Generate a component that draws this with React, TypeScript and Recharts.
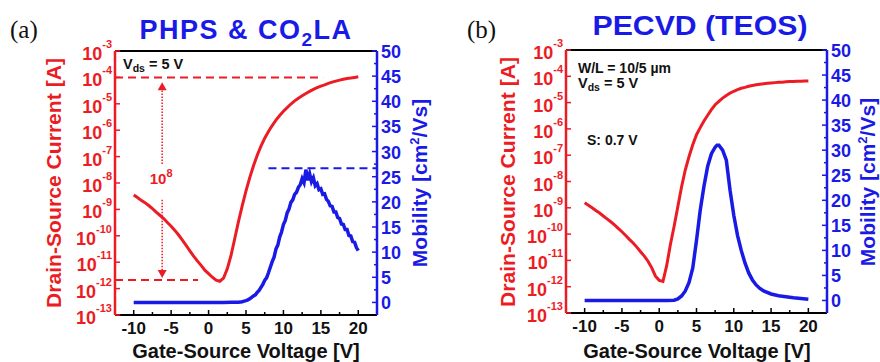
import React from "react";
import { LineChart, Line, XAxis, YAxis, ReferenceLine, ReferenceDot } from "recharts";

const RED = "#ec1c24";
const BLUE = "#1a1ae6";
const SANS = "'Liberation Sans', Arial, sans-serif";
const SERIF = "'Liberation Serif', 'Times New Roman', serif";

// gate-source sweep used for the transfer curves [V]
const vgs = [
  -10, -9.5, -9, -8.5, -8, -7.5, -7, -6.5, -6, -5.5, -5, -4.5, -4, -3.5, -3, -2.5, -2, -1.5, -1, -0.5,
  0, 0.5, 1, 1.5, 2, 2.5, 3, 3.5, 4, 4.5, 5, 5.5, 6, 6.5, 7, 7.5, 8, 8.5, 9, 9.5,
  10, 10.5, 11, 11.5, 12, 12.5, 13, 13.5, 14, 14.5, 15, 15.5, 16, 16.5, 17, 17.5, 18, 18.5, 19, 19.5, 20,
];

// drain-source current [A], PHPS & CO2LA
const currentA = [
  3.5e-9, 2.8e-9, 2.2e-9, 1.8e-9, 1.4e-9, 1.07e-9, 7.9e-10, 6.0e-10, 4.5e-10, 3.2e-10,
  2.3e-10, 1.6e-10, 1.07e-10, 6.8e-11, 4.3e-11, 2.7e-11, 1.7e-11, 1.12e-11, 7.6e-12, 5.0e-12,
  3.7e-12, 2.7e-12, 2.1e-12, 1.9e-12, 2.5e-12, 5.6e-12, 1.8e-11, 7.9e-11, 3.5e-10, 1.4e-9,
  5.0e-9, 1.6e-8, 4.5e-8, 1.12e-7, 2.5e-7, 5.0e-7, 8.9e-7, 1.5e-6, 2.4e-6, 3.6e-6,
  5.2e-6, 7.2e-6, 9.8e-6, 1.29e-5, 1.62e-5, 2.0e-5, 2.45e-5, 2.95e-5, 3.5e-5, 4.1e-5,
  4.7e-5, 5.2e-5, 5.9e-5, 6.6e-5, 7.2e-5, 7.9e-5, 8.5e-5, 9.1e-5, 9.5e-5, 1.0e-4, 1.05e-4,
];

// drain-source current [A], PECVD (TEOS)
const currentB = [
  1.55e-9, 1.26e-9, 1.0e-9, 7.9e-10, 6.3e-10, 4.9e-10, 3.8e-10, 2.95e-10, 2.24e-10, 1.66e-10,
  1.23e-10, 8.9e-11, 6.3e-11, 4.6e-11, 3.2e-11, 2.14e-11, 1.45e-11, 9.3e-12, 5.2e-12, 2.5e-12,
  1.74e-12, 1.58e-12, 6.3e-12, 4.0e-11, 2.0e-10, 1.12e-9, 6.3e-9, 2.8e-8, 8.9e-8, 2.5e-7,
  6.0e-7, 1.12e-6, 2.0e-6, 3.3e-6, 5.4e-6, 8.3e-6, 1.12e-5, 1.48e-5, 1.86e-5, 2.3e-5,
  2.7e-5, 3.1e-5, 3.5e-5, 3.8e-5, 4.2e-5, 4.5e-5, 4.8e-5, 5.0e-5, 5.2e-5, 5.4e-5,
  5.6e-5, 5.75e-5, 5.9e-5, 6.0e-5, 6.2e-5, 6.3e-5, 6.3e-5, 6.45e-5, 6.45e-5, 6.6e-5, 6.6e-5,
];

// mobility [cm2/Vs], PHPS & CO2LA (noisy measurement)
const mobVgsA = [
  -10, -7.5, -5, -2.5, 0, 2, 3,
  4, 4.25, 4.5, 4.75, 5, 5.25, 5.5, 5.75, 6, 6.25, 6.5, 6.75, 7, 7.25, 7.5, 7.75,
  8, 8.25, 8.5, 8.75, 9, 9.25, 9.5, 9.75, 10, 10.25, 10.5, 10.75, 11, 11.25, 11.5, 11.75,
  12, 12.25, 12.5, 12.75, 13, 13.25, 13.5, 13.75, 14, 14.25, 14.5, 14.75, 15, 15.25, 15.5, 15.75,
  16, 16.25, 16.5, 16.75, 17, 17.25, 17.5, 17.75, 18, 18.25, 18.5, 18.75, 19, 19.25, 19.5, 19.75, 20,
];
const mobilityA = [
  0, 0, 0, 0, 0, 0, 0.02,
  0.05, 0.1, 0.15, 0.25, 0.35, 0.5, 0.7, 1.0, 1.3, 1.5, 2.0, 2.4, 3.0, 3.6, 4.4, 4.9,
  5.9, 7.0, 8.1, 9.0, 10.6, 11.4, 13.0, 14.0, 15.5, 16.3, 17.8, 18.6, 19.9, 20.4, 21.5, 21.9,
  22.9, 23.4, 24.6, 23.8, 26.4, 24.3, 25.6, 24.0, 24.8, 23.2, 23.6, 22.4, 22.6, 21.5, 21.6, 20.5,
  20.1, 19.2, 19.1, 18.0, 18.0, 16.9, 16.7, 15.6, 15.5, 14.5, 14.5, 13.3, 13.2, 12.1, 12.0, 10.9, 10.3,
];

// mobility [cm2/Vs], PECVD (TEOS)
const mobVgsB = [
  -10, -5, 0, 1, 2, 2.5, 3, 3.5, 4, 4.5, 5, 5.5, 6, 6.5, 7, 7.5, 7.75, 8, 8.5, 9, 9.5,
  10, 10.5, 11, 11.5, 12, 12.5, 13, 13.5, 14, 15, 16, 17, 18, 19, 20,
];
const mobilityB = [
  0, 0, 0, 0, 0.05, 0.3, 0.9, 1.9, 3.6, 6.5, 12, 18, 22.8, 26.8, 29.3, 30.6, 31.0, 31.0, 30.0, 28.0, 22.0,
  17.0, 13.0, 10.0, 7.5, 5.5, 4.1, 3.1, 2.4, 1.9, 1.3, 0.95, 0.75, 0.55, 0.4, 0.25,
];

const xTicks = [-10, -7.5, -5, -2.5, 0, 2.5, 5, 7.5, 10, 12.5, 15, 17.5, 20];
const currentTicks = [1e-13, 1e-12, 1e-11, 1e-10, 1e-9, 1e-8, 1e-7, 1e-6, 1e-5, 1e-4, 1e-3];
const mobilityTicks = [0, 2.5, 5, 7.5, 10, 12.5, 15, 17.5, 20, 22.5, 25, 27.5, 30, 32.5, 35, 37.5, 40, 42.5, 45, 47.5, 50];

// annotation levels in panel (a)
const onCurrentA = 1e-4;
const offCurrentA = 2.1e-12;
const peakMobA = 26.7;
const ratioVgs = -6.2;

const toCurrent = (ids: number[]) => vgs.map((v, k) => ({ vgs: v, ids: ids[k] }));
const toMobility = (xs: number[], mu: number[]) => xs.map((v, k) => ({ vgs: v, mu: mu[k] }));

const XTick = (p: any) => {
  const v = p.payload.value;
  const major = v % 5 === 0;
  return (
    <g>
      <line x1={p.x} y1={p.y} x2={p.x} y2={p.y - (major ? 5 : 3)} stroke="#000" strokeWidth={1.5} />
      {major && (
        <text x={p.x} y={p.y + 19} textAnchor="middle" fontFamily={SANS} fontWeight="bold" fontSize={17} fill="#111">
          {v}
        </text>
      )}
    </g>
  );
};

const LogTick = (p: any) => {
  const exp = Math.round(Math.log10(p.payload.value));
  return (
    <g>
      <line x1={p.x} y1={p.y} x2={p.x + 5} y2={p.y} stroke={RED} strokeWidth={1.5} />
      <text x={p.x - 3} y={p.y + 9} textAnchor="end" fontFamily={SANS} fontWeight="bold" fontSize={18} fill={RED}>
        10<tspan dy={-12} fontSize={11}>{exp}</tspan>
      </text>
    </g>
  );
};

const MobTick = (p: any) => {
  const v = p.payload.value;
  const major = v % 5 === 0;
  return (
    <g>
      <line x1={p.x} y1={p.y} x2={p.x - (major ? 5 : 3)} y2={p.y} stroke={BLUE} strokeWidth={1.5} />
      {major && (
        <text x={p.x + 4} y={p.y + 7} textAnchor="start" fontFamily={SANS} fontWeight="bold" fontSize={18} fill={BLUE}>
          {v}
        </text>
      )}
    </g>
  );
};

type Margin = { top: number; right: number; bottom: number; left: number };

const Panel = (props: { left: number; margin: Margin; current: any[]; mobility: any[]; extras?: React.ReactNode[] }) => (
  <div style={{ position: "absolute", left: props.left, top: 0 }}>
    <LineChart width={440} height={362} margin={props.margin}>
      <XAxis
        type="number"
        dataKey="vgs"
        domain={[-12.5, 22.5]}
        ticks={xTicks}
        interval={0}
        allowDataOverflow
        height={30}
        tickSize={0}
        tickMargin={0}
        tickLine={false}
        tick={XTick}
        axisLine={{ stroke: "#000", strokeWidth: 2 }}
      />
      <YAxis
        yAxisId="ids"
        type="number"
        scale="log"
        domain={[1e-13, 1e-3]}
        ticks={currentTicks}
        interval={0}
        allowDataOverflow
        width={30}
        tickSize={0}
        tickMargin={0}
        tickLine={false}
        tick={LogTick}
        axisLine={{ stroke: RED, strokeWidth: 2.5 }}
      />
      <YAxis
        yAxisId="mu"
        orientation="right"
        type="number"
        domain={[-2.5, 50]}
        ticks={mobilityTicks}
        interval={0}
        allowDataOverflow
        width={30}
        tickSize={0}
        tickMargin={0}
        tickLine={false}
        tick={MobTick}
        axisLine={{ stroke: BLUE, strokeWidth: 2.5 }}
      />
      <ReferenceLine yAxisId="ids" y={1e-3} stroke="#000" strokeWidth={2} />
      {props.extras}
      <Line yAxisId="ids" data={props.current} dataKey="ids" stroke={RED} strokeWidth={3} dot={false} isAnimationActive={false} />
      <Line yAxisId="mu" data={props.mobility} dataKey="mu" stroke={BLUE} strokeWidth={3.5} dot={false} isAnimationActive={false} />
    </LineChart>
  </div>
);

const dash = { strokeWidth: 2, strokeDasharray: "8 5" };

const extrasA = [
  <ReferenceLine key="on" yAxisId="ids" segment={[{ x: -12.5, y: onCurrentA }, { x: 15.3, y: onCurrentA }]} stroke={RED} {...dash} />,
  <ReferenceLine key="off" yAxisId="ids" segment={[{ x: -12.5, y: offCurrentA }, { x: -1.4, y: offCurrentA }]} stroke={RED} {...dash} />,
  <ReferenceLine key="peak" yAxisId="mu" segment={[{ x: 8, y: peakMobA }, { x: 22.5, y: peakMobA }]} stroke={BLUE} {...dash} />,
  <ReferenceLine key="up" yAxisId="ids" segment={[{ x: ratioVgs, y: 3.2e-5 }, { x: ratioVgs, y: 4.8e-8 }]} stroke={RED} strokeWidth={1.5} strokeDasharray="1.5 1.5" />,
  <ReferenceLine key="down" yAxisId="ids" segment={[{ x: ratioVgs, y: 2.3e-9 }, { x: ratioVgs, y: 5e-12 }]} stroke={RED} strokeWidth={1.5} strokeDasharray="1.5 1.5" />,
  <ReferenceDot
    key="headUp"
    yAxisId="ids"
    x={ratioVgs}
    y={6.5e-5}
    r={1}
    shape={(p: any) => <polygon points={`${p.cx},${p.cy} ${p.cx - 4.5},${p.cy + 8} ${p.cx + 4.5},${p.cy + 8}`} fill={RED} />}
  />,
  <ReferenceDot
    key="headDown"
    yAxisId="ids"
    x={ratioVgs}
    y={2.5e-12}
    r={1}
    shape={(p: any) => <polygon points={`${p.cx},${p.cy} ${p.cx - 4.5},${p.cy - 8} ${p.cx + 4.5},${p.cy - 8}`} fill={RED} />}
  />,
  <ReferenceDot
    key="ratio"
    yAxisId="ids"
    x={ratioVgs}
    y={1.6e-8}
    r={1}
    shape={(p: any) => (
      <text x={p.cx - 1} y={p.cy + 6} textAnchor="middle" fontFamily={SANS} fontWeight="bold" fontSize={15} fill={RED}>
        10<tspan dy={-7} fontSize={11}>8</tspan>
      </text>
    )}
  />,
];

const Vds = ({ x, y }: { x: number; y: number }) => (
  <text x={x} y={y} fontFamily={SANS} fontWeight="bold" fontSize={14.5} fill="#111">
    V<tspan fontSize={10.5} dy={3}>ds</tspan>
    <tspan dy={-3}> = 5 V</tspan>
  </text>
);

const YTitle = ({ cx, cy, fill, children, len }: any) => (
  <text
    x={cx}
    y={cy}
    dy="0.35em"
    transform={`rotate(-90 ${cx} ${cy})`}
    textAnchor="middle"
    fontFamily={SANS}
    fontWeight="bold"
    fontSize={21}
    fill={fill}
    textLength={len}
    lengthAdjust="spacingAndGlyphs"
  >
    {children}
  </text>
);

const MobTitle = ({ cx, cy }: { cx: number; cy: number }) => (
  <text
    x={cx}
    y={cy}
    dy="0.35em"
    transform={`rotate(-90 ${cx} ${cy})`}
    textAnchor="middle"
    fontFamily={SANS}
    fontWeight="bold"
    fontSize={21}
    fill={BLUE}
  >
    Mobility [cm<tspan dy={-8} fontSize={13}>2</tspan>
    <tspan dy={8}>/Vs]</tspan>
  </text>
);

export default function App() {
  return (
    <div style={{ position: "absolute", left: 0, top: 0, width: 880, height: 362, background: "#fff" }}>
      <Panel
        left={0}
        margin={{ top: 51, right: 33, bottom: 17, left: 85 }}
        current={toCurrent(currentA)}
        mobility={toMobility(mobVgsA, mobilityA)}
        extras={extrasA}
      />
      <Panel
        left={440}
        margin={{ top: 50, right: 23, bottom: 19, left: 96 }}
        current={toCurrent(currentB)}
        mobility={toMobility(mobVgsB, mobilityB)}
      />
      <svg width={880} height={362} style={{ position: "absolute", left: 0, top: 0, pointerEvents: "none" }}>
        <text x={10} y={38} fontFamily={SERIF} fontSize={25} fill="#111">(a)</text>
        <text x={467} y={38} fontFamily={SERIF} fontSize={25} fill="#111">(b)</text>
        <text x={246} y={39} textAnchor="middle" fontFamily={SANS} fontWeight="bold" fontSize={27} letterSpacing={1.5} fill={BLUE}>
          PHPS &amp; CO<tspan fontSize={19} dy={7}>2</tspan>
          <tspan dy={-7}>LA</tspan>
        </text>
        <text x={700} y={35} textAnchor="middle" fontFamily={SANS} fontWeight="bold" fontSize={27} fill={BLUE} textLength={215} lengthAdjust="spacingAndGlyphs">
          PECVD (TEOS)
        </text>

        <YTitle cx={54} cy={183} fill={RED} len={250}>Drain-Source Current [A]</YTitle>
        <MobTitle cx={420} cy={183} />
        <YTitle cx={508} cy={182} fill={RED} len={250}>Drain-Source Current [A]</YTitle>
        <MobTitle cx={868} cy={182} />

        <text x={246} y={358} textAnchor="middle" fontFamily={SANS} fontWeight="bold" fontSize={20} fill="#111">Gate-Source Voltage [V]</text>
        <text x={697} y={358} textAnchor="middle" fontFamily={SANS} fontWeight="bold" fontSize={20} fill="#111">Gate-Source Voltage [V]</text>

        <Vds x={123} y={69} />
        <text x={578} y={73} fontFamily={SANS} fontWeight="bold" fontSize={14} fill="#111">W/L = 10/5 µm</text>
        <Vds x={578} y={88} />
        <text x={587} y={145} fontFamily={SANS} fontWeight="bold" fontSize={14} fill="#111">S: 0.7 V</text>
      </svg>
    </div>
  );
}
